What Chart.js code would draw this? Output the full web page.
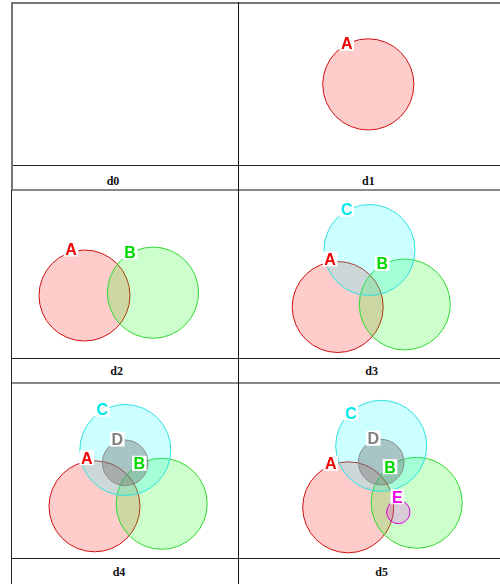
<!DOCTYPE html>
<html>
<head>
<meta charset="utf-8">
<script src="https://cdn.jsdelivr.net/npm/chart.js@4.4.1/dist/chart.umd.min.js"></script>
<style>
  html, body { margin: 0; padding: 0; background: #fff; }
  #page { position: relative; width: 500px; height: 584px; overflow: hidden; }
  canvas { position: absolute; }
  .cap {
    position: absolute;
    font: bold 12px "Liberation Serif", "Times New Roman", serif;
    color: #111;
    transform: translateX(-50%);
    line-height: 14px;
  }
  .line { position: absolute; z-index: 2; }
</style>
</head>
<body>
<div id="page"></div>
<script>
// diagram data: which sets, circle centres + radii, label anchors (panel units)
const d0Sets = [];
const d0X = [];
const d0Y = [];
const d0R = [];
const d0LabelX = [];
const d0LabelY = [];

const d1Sets = ["A"];
const d1X = [130.3];
const d1Y = [81.4];
const d1R = [45.6];
const d1LabelX = [108.7];
const d1LabelY = [40.3];

const d2Sets = ["A", "B"];
const d2X = [72.5, 141];
const d2Y = [105.5, 102.7];
const d2R = [45.5, 45.6];
const d2LabelX = [59, 118];
const d2LabelY = [59, 61.7];

const d3Sets = ["A", "B", "C"];
const d3X = [99.7, 166.8, 131.5];
const d3Y = [117, 114.5, 60];
const d3R = [45.5, 45.5, 45.5];
const d3LabelX = [92, 144.3, 108.7];
const d3LabelY = [69, 73.3, 19.3];

const d4Sets = ["A", "B", "C", "D"];
const d4X = [82.5, 149.7, 113.3, 113.2];
const d4Y = [123.3, 120.8, 67, 79.8];
const d4R = [45.5, 45.5, 45.5, 22.8];
const d4LabelX = [74.7, 127.3, 90.3, 105.3];
const d4LabelY = [74.7, 80.3, 26.3, 56];

const d5Sets = ["A", "B", "C", "D", "E"];
const d5X = [110.2, 178.7, 143.2, 143.2, 160.3];
const d5Y = [124.3, 119.8, 62.8, 79.2, 129];
const d5R = [45.5, 45.5, 45.5, 22.8, 11.7];
const d5LabelX = [92.7, 152, 113, 135.3, 159.3];
const d5LabelY = [80.3, 83.7, 29.7, 55.3, 113.7];

const captions = ["d0", "d1", "d2", "d3", "d4", "d5"];

// styles per set
const setFill = {
  A: "rgba(255,0,0,0.2)",
  B: "rgba(0,255,0,0.2)",
  C: "rgba(0,255,255,0.2)",
  D: "rgba(110,110,110,0.4)",
  E: "rgba(255,0,255,0.2)",
};
const setStroke = {
  A: "#d01010",
  B: "#30d830",
  C: "#30e0e0",
  D: "#8a8a8a",
  E: "#d800d8",
};
const setText = {
  A: "#f00000",
  B: "#00d800",
  C: "#00e8e8",
  D: "#808080",
  E: "#e800e8",
};

const page = document.getElementById("page");

// table lines
function addLine(x, y, w, h, color) {
  const d = document.createElement("div");
  d.className = "line";
  d.style.left = x + "px";
  d.style.top = y + "px";
  d.style.width = w + "px";
  d.style.height = h + "px";
  d.style.background = color;
  page.appendChild(d);
}
addLine(11, 2, 489, 2, "#777");
addLine(11, 165, 489, 1, "#222");
addLine(11, 189, 489, 2, "#888");
addLine(11, 358, 489, 1, "#222");
addLine(11, 382, 489, 2, "#888");
addLine(11, 558, 489, 1, "#222");
addLine(11, 2, 2, 188, "#777");
addLine(11, 190, 1, 394, "#222");
addLine(238, 2, 1, 582, "#111");

const labelPlugin = {
  id: "setLabels",
  afterDatasetsDraw(chart, args, opts) {
    const { ctx, scales } = chart;
    ctx.save();
    ctx.font = "bold 16px Arial, 'Liberation Sans', sans-serif";
    ctx.textAlign = "center";
    ctx.textBaseline = "alphabetic";
    (opts.names || []).forEach((name, i) => {
      const px = scales.x.getPixelForValue(opts.lx[i]);
      const py = scales.y.getPixelForValue(opts.ly[i]);
      const w = ctx.measureText(name).width;
      ctx.fillStyle = "#fff";
      ctx.fillRect(px - w / 2 - 1.5, py - 7.5, w + 3, 15);
      ctx.fillStyle = setText[name];
      ctx.fillText(name, px, py + 6);
    });
    ctx.restore();
  },
};

function radiusPx(ctx) {
  const s = ctx.chart.scales.x;
  return Math.abs(s.getPixelForValue(ctx.raw.r) - s.getPixelForValue(0));
}

function makePanel(p) {
  const cv = document.createElement("canvas");
  cv.width = p.w;
  cv.height = p.h;
  cv.style.left = p.left + "px";
  cv.style.top = p.top + "px";
  cv.style.width = p.w + "px";
  cv.style.height = p.h + "px";
  page.appendChild(cv);

  const datasets = p.sets.map((name, i) => ({
    label: name,
    data: [{ x: p.xs[i], y: p.ys[i], r: p.rs[i] }],
    backgroundColor: setFill[name],
    borderColor: setStroke[name],
    pointBorderWidth: 1,
    pointRadius: radiusPx,
    pointHoverRadius: radiusPx,
    order: p.sets.length - i,
    clip: false,
  }));

  new Chart(cv, {
    type: "scatter",
    data: { datasets },
    options: {
      responsive: false,
      devicePixelRatio: 1,
      animation: false,
      events: [],
      layout: { padding: 0 },
      scales: {
        x: { type: "linear", min: 0, max: p.w, display: false },
        y: { type: "linear", min: 0, max: p.h, reverse: true, display: false },
      },
      plugins: {
        legend: { display: false },
        tooltip: { enabled: false },
        setLabels: { names: p.sets, lx: p.lx, ly: p.ly },
      },
    },
    plugins: [labelPlugin],
  });

  const cap = document.createElement("div");
  cap.className = "cap";
  cap.textContent = p.caption;
  cap.style.left = p.capX + "px";
  cap.style.top = p.capY + "px";
  page.appendChild(cap);
}

const panels = [
  { left: 12, top: 3, w: 226, h: 162, sets: d0Sets, xs: d0X, ys: d0Y, rs: d0R, lx: d0LabelX, ly: d0LabelY, caption: captions[0], capX: 113, capY: 174 },
  { left: 238, top: 3, w: 262, h: 162, sets: d1Sets, xs: d1X, ys: d1Y, rs: d1R, lx: d1LabelX, ly: d1LabelY, caption: captions[1], capX: 368.3, capY: 174 },
  { left: 12, top: 190, w: 226, h: 168, sets: d2Sets, xs: d2X, ys: d2Y, rs: d2R, lx: d2LabelX, ly: d2LabelY, caption: captions[2], capX: 116.7, capY: 364 },
  { left: 238, top: 190, w: 262, h: 168, sets: d3Sets, xs: d3X, ys: d3Y, rs: d3R, lx: d3LabelX, ly: d3LabelY, caption: captions[3], capX: 371.7, capY: 364 },
  { left: 12, top: 383, w: 226, h: 176, sets: d4Sets, xs: d4X, ys: d4Y, rs: d4R, lx: d4LabelX, ly: d4LabelY, caption: captions[4], capX: 119, capY: 565 },
  { left: 238, top: 383, w: 262, h: 176, sets: d5Sets, xs: d5X, ys: d5Y, rs: d5R, lx: d5LabelX, ly: d5LabelY, caption: captions[5], capX: 381.7, capY: 565 },
];

panels.forEach(makePanel);
</script>
</body>
</html>
